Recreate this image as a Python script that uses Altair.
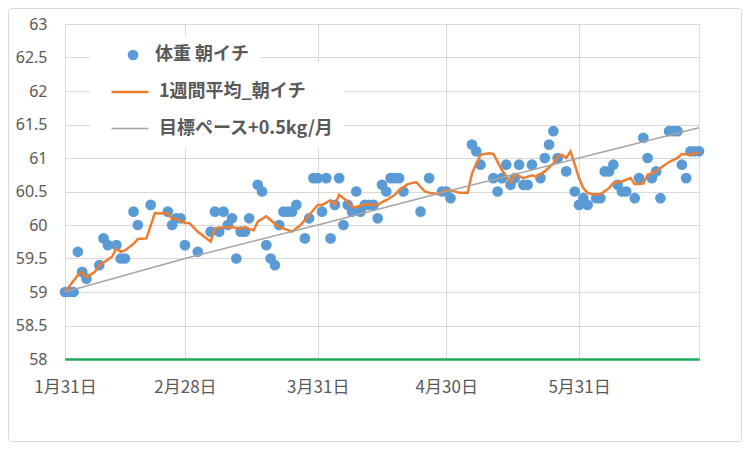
import altair as alt
import pandas as pd

START = "2022-01-31"

series_names = ["体重 朝イチ", "1週間平均_朝イチ", "目標ペース+0.5kg/月"]
series_colors = ["#5B9BD5", "#ED7D31", "#A5A5A5"]

# 体重 朝イチ (days after 1/31, kg)
weight_day = [0, 1, 2, 3, 4, 5, 8, 9, 10, 12, 13, 14, 16, 17, 20, 24, 25, 26, 27, 28,
              31, 34, 35, 36, 37, 38, 39, 40, 41, 42, 43, 45, 46, 47, 48, 49, 50, 51, 52, 53,
              54, 56, 57, 58, 59, 60, 61, 62, 63, 64, 65, 66, 67, 68, 69, 70, 71, 72, 73, 74,
              75, 76, 77, 78, 79, 83, 85, 88, 89, 90, 95, 96, 97, 100, 101, 102, 103, 104, 105, 106,
              107, 108, 109, 111, 112, 113, 114, 115, 117, 119, 120, 121, 122, 124, 125, 126, 127, 128, 129, 130,
              131, 133, 134, 135, 136, 137, 138, 139, 141, 142, 143, 144, 145, 146, 147, 148]
weight_kg = [59.0, 59.0, 59.0, 59.6, 59.3, 59.2, 59.4, 59.8, 59.7, 59.7, 59.5, 59.5, 60.2, 60.0, 60.3, 60.2, 60.0, 60.1, 60.1, 59.7,
             59.6, 59.9, 60.2, 59.9, 60.2, 60.0, 60.1, 59.5, 59.9, 59.9, 60.1, 60.6, 60.5, 59.7, 59.5, 59.4, 60.0, 60.2, 60.2, 60.2,
             60.3, 59.8, 60.1, 60.7, 60.7, 60.2, 60.7, 59.8, 60.3, 60.7, 60.0, 60.3, 60.2, 60.5, 60.2, 60.3, 60.3, 60.3, 60.1, 60.6,
             60.5, 60.7, 60.7, 60.7, 60.5, 60.2, 60.7, 60.5, 60.5, 60.4, 61.2, 61.1, 60.9, 60.7, 60.5, 60.7, 60.9, 60.6, 60.7, 60.9,
             60.6, 60.6, 60.9, 60.7, 61.0, 61.2, 61.4, 61.0, 60.8, 60.5, 60.3, 60.4, 60.3, 60.4, 60.4, 60.8, 60.8, 60.9, 60.6, 60.5,
             60.5, 60.4, 60.7, 61.3, 61.0, 60.7, 60.8, 60.4, 61.4, 61.4, 61.4, 60.9, 60.7, 61.1, 61.1, 61.1]

# 1週間平均_朝イチ (read at visible vertices)
avg_day = [0, 3, 4, 5, 7, 8, 10, 11, 12, 13, 14, 16, 17, 19, 21, 22, 24, 25, 26, 28,
           29, 31, 34, 35, 39, 41, 42, 44, 45, 47, 49, 50, 53, 55, 57, 59, 60, 62, 63, 64,
           66, 67, 68, 70, 73, 74, 75, 77, 78, 80, 82, 84, 85, 87, 89, 90, 92, 94, 95, 97,
           99, 100, 102, 104, 105, 107, 109, 110, 112, 114, 115, 116, 117, 118, 119, 120, 121, 122, 123, 125,
           127, 128, 130, 132, 133, 135, 136, 138, 139, 141, 143, 144, 146, 148]
avg_kg = [59.0, 59.25, 59.3, 59.22, 59.3, 59.4, 59.48, 59.53, 59.65, 59.6, 59.62, 59.72, 59.79, 59.8, 60.18, 60.17, 60.18, 60.09, 60.09, 60.03,
          60.03, 59.9, 59.75, 59.95, 59.97, 59.94, 59.97, 59.92, 60.05, 60.13, 60.02, 59.97, 59.9, 60.0, 60.15, 60.3, 60.3, 60.37, 60.3, 60.45,
          60.35, 60.27, 60.27, 60.31, 60.3, 60.34, 60.37, 60.45, 60.52, 60.61, 60.64, 60.5, 60.48, 60.46, 60.52, 60.52, 60.48, 60.48, 60.77, 61.05,
          61.07, 61.06, 60.82, 60.64, 60.76, 60.7, 60.74, 60.72, 60.8, 60.92, 61.02, 61.05, 61.0, 61.1, 60.9, 60.7, 60.55, 60.48, 60.46, 60.46,
          60.55, 60.63, 60.65, 60.7, 60.61, 60.62, 60.75, 60.8, 60.85, 60.94, 61.0, 61.06, 61.05, 61.08]

# 目標ペース+0.5kg/月 (month-end nodes)
goal_day = [0, 28, 59, 89, 120, 148]
goal_kg = [59.0, 59.5, 60.0, 60.5, 61.0, 61.45]

tick_day = [0, 28, 59, 89, 120]
y_ticks = [58, 58.5, 59, 59.5, 60, 60.5, 61, 61.5, 62, 62.5, 63]

base = pd.Timestamp(START)


def to_dates(days):
    return [(base + pd.Timedelta(days=d)).strftime("%Y-%m-%d") for d in days]


def to_dt(d):
    t = base + pd.Timedelta(days=d)
    return alt.DateTime(year=t.year, month=t.month, date=t.day, utc=True)


df_w = pd.DataFrame({"date": to_dates(weight_day), "kg": weight_kg, "series": series_names[0]})
df_l = pd.concat([
    pd.DataFrame({"date": to_dates(avg_day), "kg": avg_kg, "series": series_names[1]}),
    pd.DataFrame({"date": to_dates(goal_day), "kg": goal_kg, "series": series_names[2]}),
], ignore_index=True)

TXT = "#595959"
GRID = "#D9D9D9"
GREEN = "#1EA85A"
JP = "Noto Sans CJK JP"

xscale = alt.Scale(type="utc", domain=[to_dt(weight_day[0]), to_dt(weight_day[-1])])
yscale = alt.Scale(domain=[58, 63], nice=False, zero=False)

xaxis = alt.Axis(
    values=[to_dt(d) for d in tick_day],
    labelExpr="utcFormat(datum.value, '%-m月%-d日')",
    title=None, ticks=False, tickSize=0, grid=True, gridColor=GRID, gridWidth=1,
    domainColor=GREEN, domainWidth=2, labelFont=JP, labelFontSize=17, labelColor=TXT,
    labelPadding=20, labelOverlap=False, labelFlush=False,
)
yaxis = alt.Axis(
    values=y_ticks, format=".1~f", title=None, ticks=False, tickSize=0, domain=False,
    gridColor=alt.condition("datum.value == 58", alt.value(GREEN), alt.value(GRID)),
    gridWidth=alt.condition("datum.value == 58", alt.value(2), alt.value(1)),
    labelFont="Noto Sans", labelFontSize=16, labelColor=TXT, labelPadding=18,
    labelOverlap=False, labelFlush=False,
)

leg_common = dict(
    orient="none", title=None, fillColor="white", padding=10,
    labelFont=JP, labelFontSize=18, labelFontWeight="bold", labelColor=TXT, labelLimit=400,
)

points = alt.Chart(df_w).mark_circle(size=115, opacity=1).encode(
    x=alt.X("date:T", scale=xscale, axis=xaxis),
    y=alt.Y("kg:Q", scale=yscale, axis=yaxis),
    fill=alt.Fill(
        "series:N",
        scale=alt.Scale(domain=[series_names[0]], range=[series_colors[0]]),
        legend=alt.Legend(legendX=25, legendY=12, symbolType="circle", symbolSize=115,
                          symbolOffset=24, labelOffset=13, **leg_common),
    ),
)

lines = alt.Chart(df_l).mark_line().encode(
    x=alt.X("date:T", scale=xscale, axis=xaxis),
    y=alt.Y("kg:Q", scale=yscale, axis=yaxis),
    stroke=alt.Stroke(
        "series:N",
        scale=alt.Scale(domain=series_names[1:], range=series_colors[1:]),
        legend=alt.Legend(legendX=25, legendY=38, symbolType="stroke", symbolSize=1369,
                          symbolStrokeWidth=2, symbolOffset=10, labelOffset=9, rowPadding=8,
                          **leg_common),
    ),
    strokeWidth=alt.StrokeWidth(
        "series:N", scale=alt.Scale(domain=series_names[1:], range=[2.5, 1.5]), legend=None
    ),
)

frame = alt.Chart(pd.DataFrame({"a": [0]})).mark_rect(
    fillOpacity=0, stroke=GRID, strokeWidth=1, cornerRadius=3
).encode(
    x=alt.value(-56.5), x2=alt.value(676.5), y=alt.value(-15.5), y2=alt.value(417.5)
)

chart = alt.layer(points, lines, frame).properties(
    width=634, height=335,
    autosize=alt.AutoSizeParams(type="none"),
    padding={"left": 57, "top": 16, "right": 43, "bottom": 83},
).configure_view(strokeWidth=0).configure(background="white")

chart.save("out.html", embed_options={"renderer": "svg", "actions": False})
